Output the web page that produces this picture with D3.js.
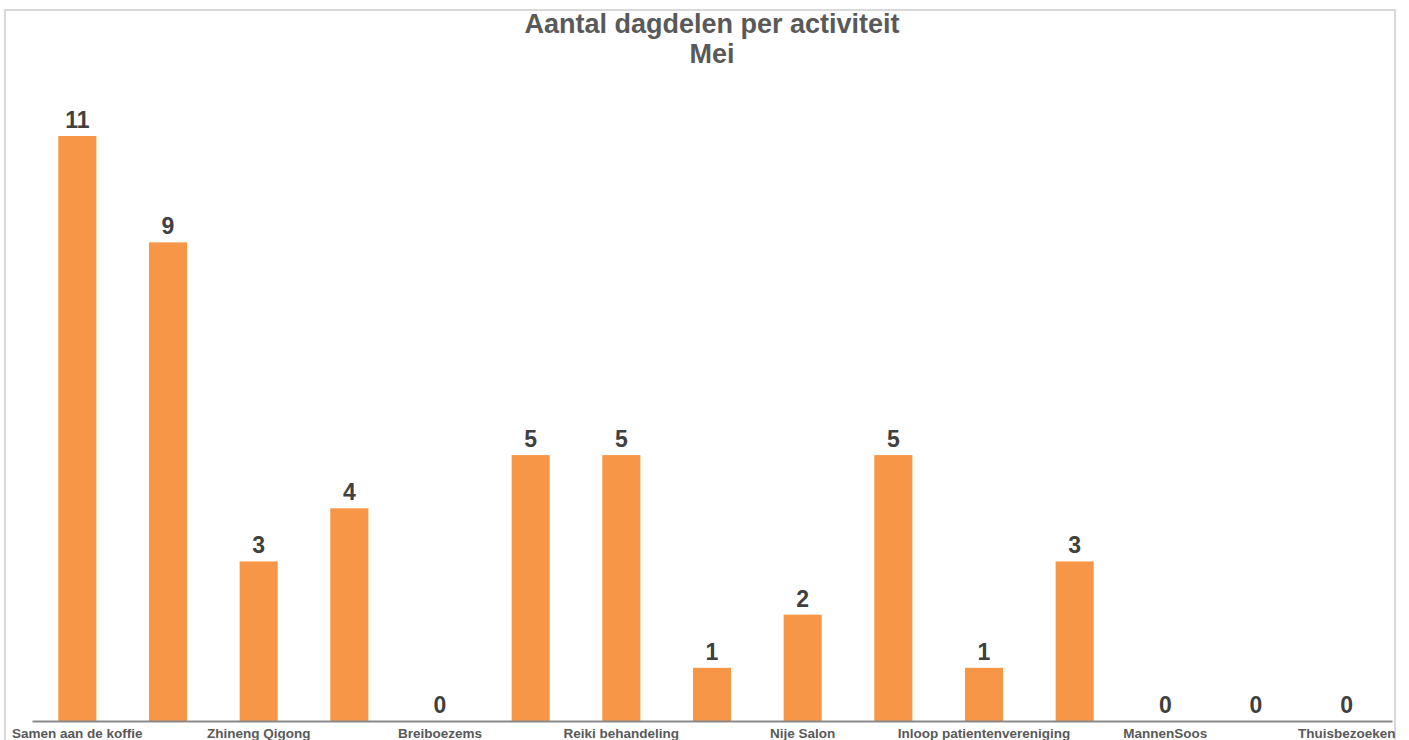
<!DOCTYPE html>
<html>
<head>
<meta charset="utf-8">
<script src="https://cdn.jsdelivr.net/npm/d3@7"></script>
<style>
  body { margin: 0; background: #fff; }
  svg { display: block; font-family: "Liberation Sans", Arial, sans-serif; }
</style>
</head>
<body>
<script>
// categories (only every other label is shown in the original chart)
var categories = ["Samen aan de koffie", "", "Zhineng Qigong", "", "Breiboezems", "",
                  "Reiki behandeling", "", "Nije Salon", "", "Inloop patientenvereniging", "",
                  "MannenSoos", "", "Thuisbezoeken"];
var values = [11, 9, 3, 4, 0, 5, 5, 1, 2, 5, 1, 3, 0, 0, 0];
var titleLines = ["Aantal dagdelen per activiteit", "Mei"];

var W = 1409, H = 740;
var margin = {left: 32, right: 17, baseline: 721};
var plotTop = 136; // top of the tallest bar (11)

var svg = d3.select("body").append("svg")
    .attr("width", W)
    .attr("height", H);

// chart frame
svg.append("rect")
    .attr("x", 5).attr("y", 10)
    .attr("width", 1390).attr("height", 760)
    .attr("fill", "#fff")
    .attr("stroke", "#d9d9d9")
    .attr("stroke-width", 2);

var idx = d3.range(values.length);

var x = d3.scaleBand()
    .domain(idx)
    .range([margin.left, W - margin.right])
    .paddingInner(0.58)
    .paddingOuter(0.29);

var y = d3.scaleLinear()
    .domain([0, 11])
    .range([margin.baseline, plotTop]);

// title
svg.selectAll(".title")
    .data(titleLines)
  .enter().append("text")
    .attr("class", "title")
    .attr("x", 712)
    .attr("y", function(d, i) { return 33 + i * 30; })
    .attr("text-anchor", "middle")
    .attr("font-size", 27).attr("font-weight", "bold")
    .attr("fill", "#595959")
    .text(function(d) { return d; });

// bars
svg.selectAll(".bar")
    .data(values)
  .enter().append("rect")
    .attr("class", "bar")
    .attr("x", function(d, i) { return x(i); })
    .attr("width", x.bandwidth())
    .attr("y", function(d) { return y(d); })
    .attr("height", function(d) { return y(0) - y(d); })
    .attr("fill", "#f79646");

// value labels
svg.selectAll(".val")
    .data(values)
  .enter().append("text")
    .attr("class", "val")
    .attr("x", function(d, i) { return x(i) + x.bandwidth() / 2; })
    .attr("y", function(d) { return y(d) - 8; })
    .attr("text-anchor", "middle")
    .attr("font-size", 23).attr("font-weight", "bold")
    .attr("fill", "#404040")
    .text(function(d) { return d; });

// x axis
var xAxis = d3.axisBottom(x)
    .tickValues(idx.filter(function(i) { return i % 2 === 0; }))
    .tickFormat(function(i) { return categories[i]; })
    .tickSize(0)
    .tickPadding(7);

var gx = svg.append("g")
    .attr("transform", "translate(0," + margin.baseline + ")")
    .call(xAxis);
gx.select(".domain")
    .attr("stroke", "#898989")
    .attr("stroke-width", 2);
gx.selectAll("text")
    .attr("font-size", 13.5)
    .attr("font-weight", "bold")
    .attr("fill", "#595959")
    .attr("font-family", "Liberation Sans, Arial, sans-serif");
</script>
</body>
</html>
